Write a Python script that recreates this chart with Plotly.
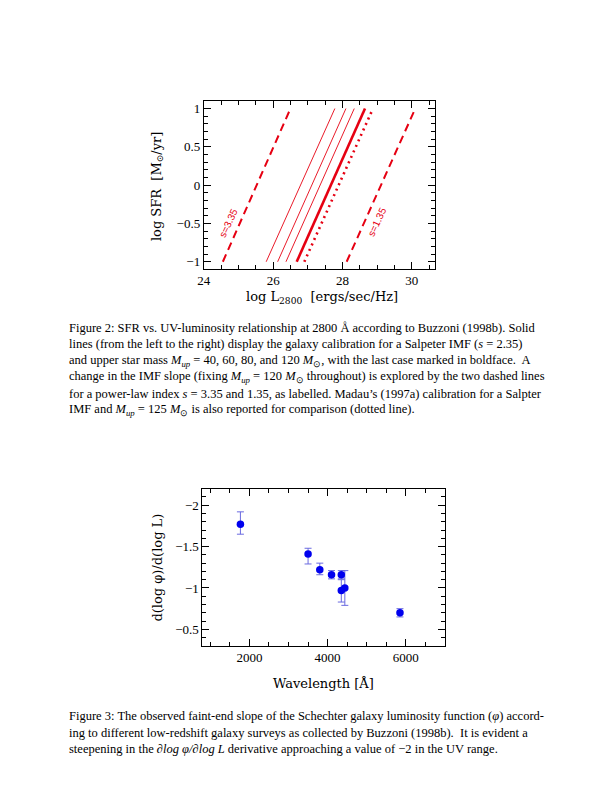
import plotly.graph_objects as go

# ---------------- Figure 2 data (log SFR vs log L2800) ----------------
sfr_ends = [-1.0, 1.0]
# solid lines: Salpeter IMF, M_up = 40, 60, 80, 120 (last one bold)
mup_labels = ["40", "60", "80", "120"]
mup_logL_low = [25.80, 26.13, 26.37, 26.68]
mup_logL_high = [27.78, 28.10, 28.34, 28.65]
# dashed lines: IMF slope s = 3.35 and 1.35
s_labels = ["s=3.35", "s=1.35"]
s_logL_low = [24.55, 28.12]
s_logL_high = [26.50, 30.10]
s_label_x = [24.72, 29.01]
s_label_y = [-0.49, -0.48]
# dotted line: Madau (1997a)
madau_logL = [26.90, 28.88]

# ---------------- Figure 3 data (faint-end slope vs wavelength) -------
wavelength = [1770, 3500, 3800, 4100, 4350, 4350, 4440, 5850]
slope = [-1.77, -1.41, -1.22, -1.16, -1.16, -0.97, -1.00, -0.70]
err_up = [0.12, 0.12, 0.06, 0.05, 0.05, 0.14, 0.21, 0.05]     # toward less negative
err_down = [0.15, 0.07, 0.08, 0.05, 0.05, 0.13, 0.21, 0.05]   # toward more negative

cap2 = [
    "Figure 2: SFR vs. UV-luminosity relationship at 2800 Å according to Buzzoni (1998b). Solid",
    "lines (from the left to the right) display the galaxy calibration for a Salpeter IMF (<i>s</i> = 2.35)",
    "and upper star mass <i>M<sub>up</sub></i> = 40, 60, 80, and 120 <i>M</i><sub>⊙</sub>, with the last case marked in boldface.  A",
    "change in the IMF slope (fixing <i>M<sub>up</sub></i> = 120 <i>M</i><sub>⊙</sub> throughout) is explored by the two dashed lines",
    "for a power-law index <i>s</i> = 3.35 and 1.35, as labelled. Madau’s (1997a) calibration for a Salpter",
    "IMF and <i>M<sub>up</sub></i> = 125 <i>M</i><sub>⊙</sub> is also reported for comparison (dotted line).",
]
cap3 = [
    "Figure 3: The observed faint-end slope of the Schechter galaxy luminosity function (<i>φ</i>) accord-",
    "ing to different low-redshift galaxy surveys as collected by Buzzoni (1998b).  It is evident a",
    "steepening in the <i>∂log φ/∂log L</i> derivative approaching a value of −2 in the UV range.",
]

RED = "#e60012"
FONT = "Liberation Serif"
TFONT = "DejaVu Serif"
OFFX, OFFY = 11, 7      # page offset compensation
W, H = 612 - OFFX, 792 - OFFY

fig = go.Figure()

for i, lab in enumerate(mup_labels):
    fig.add_trace(go.Scatter(
        x=[mup_logL_low[i], mup_logL_high[i]], y=sfr_ends, mode="lines",
        line=dict(color=RED, width=2.6 if i == len(mup_labels) - 1 else 0.9),
        xaxis="x", yaxis="y", showlegend=False, name="Mup=" + lab))

for i, lab in enumerate(s_labels):
    fig.add_trace(go.Scatter(
        x=[s_logL_low[i], s_logL_high[i]], y=sfr_ends, mode="lines",
        line=dict(color=RED, width=2, dash="8px,5px"),
        xaxis="x", yaxis="y", showlegend=False, name=lab))

fig.add_trace(go.Scatter(
    x=madau_logL, y=sfr_ends, mode="lines",
    line=dict(color=RED, width=2.6, dash="2px,4px"),
    xaxis="x", yaxis="y", showlegend=False, name="Madau"))

fig.add_trace(go.Scatter(
    x=wavelength, y=slope, mode="markers",
    marker=dict(color="#0000ee", size=7.5),
    error_y=dict(type="data", symmetric=False, array=err_up, arrayminus=err_down,
                 color="#6a6ae0", thickness=1, width=3.5),
    xaxis="x2", yaxis="y2", showlegend=False))

def px_x(p):
    return (p - OFFX) / W

def px_y(p):
    return 1 - (p - OFFY) / H

axis_common = dict(showline=True, linecolor="black", linewidth=1, mirror="allticks",
                   ticks="inside", ticklen=7, tickcolor="black", showgrid=False,
                   zeroline=False, tickfont=dict(family=FONT, size=13, color="black"))

fig.update_layout(
    width=W, height=H, margin=dict(l=0, r=0, t=0, b=0),
    paper_bgcolor="white", plot_bgcolor="white",
    xaxis=dict(domain=[px_x(202), px_x(436)], range=[24, 30.67], anchor="y",
               tick0=0, dtick=2,
               minor=dict(dtick=0.5, tick0=0, ticks="inside", ticklen=4, tickcolor="black"),
               **axis_common),
    yaxis=dict(domain=[px_y(268), px_y(100)], range=[-1.09, 1.1], anchor="x",
               tick0=0, dtick=0.5,
               minor=dict(dtick=0.1, tick0=0, ticks="inside", ticklen=4, tickcolor="black"),
               **axis_common),
    xaxis2=dict(domain=[px_x(200.7), px_x(446)], range=[800, 7000], anchor="y2",
                tick0=0, dtick=2000,
                minor=dict(dtick=500, tick0=0, ticks="inside", ticklen=4, tickcolor="black"),
                **axis_common),
    yaxis2=dict(domain=[px_y(645.7), px_y(488.3)], range=[-0.3, -2.2], anchor="x2",
                tickvals=[-2, -1.5, -1, -0.5],
                minor=dict(dtick=0.1, tick0=0, ticks="inside", ticklen=4, tickcolor="black"),
                **axis_common),
)

ann = []
for i, lab in enumerate(s_labels):
    ann.append(dict(x=s_label_x[i], y=s_label_y[i], xref="x", yref="y", text=lab,
                    showarrow=False, textangle=-65, xanchor="center", yanchor="middle",
                    font=dict(family="Liberation Sans", size=10, color=RED)))

# axis titles
ann.append(dict(x=px_x(322), y=px_y(297), xref="paper", yref="paper",
                text="log L<sub>2800</sub>  [ergs/sec/Hz]", showarrow=False,
                xanchor="center", yanchor="middle",
                font=dict(family=TFONT, size=13, color="black")))
ann.append(dict(x=px_x(155), y=px_y(186), xref="paper", yref="paper",
                text="log SFR  [M<sub>⊙</sub>/yr]", showarrow=False, textangle=-90,
                xanchor="center", yanchor="middle",
                font=dict(family=TFONT, size=13, color="black")))
ann.append(dict(x=px_x(323), y=px_y(683), xref="paper", yref="paper",
                text="Wavelength [Å]", showarrow=False,
                xanchor="center", yanchor="middle",
                font=dict(family=TFONT, size=13, color="black")))
ann.append(dict(x=px_x(155), y=px_y(567), xref="paper", yref="paper",
                text="d(log φ)/d(log L)", showarrow=False, textangle=-90,
                xanchor="center", yanchor="middle",
                font=dict(family=TFONT, size=13, color="black")))

# captions
for i, line in enumerate(cap2):
    ann.append(dict(x=px_x(64), y=px_y(327 + 16.6 * i), xref="paper", yref="paper",
                    text=line, showarrow=False, xanchor="left", yanchor="middle",
                    font=dict(family=FONT, size=12.5, color="black")))
for i, line in enumerate(cap3):
    ann.append(dict(x=px_x(64), y=px_y(716 + 16.6 * i), xref="paper", yref="paper",
                    text=line, showarrow=False, xanchor="left", yanchor="middle",
                    font=dict(family=FONT, size=12.5, color="black")))

fig.update_layout(annotations=ann)
fig.write_html("out.html")
